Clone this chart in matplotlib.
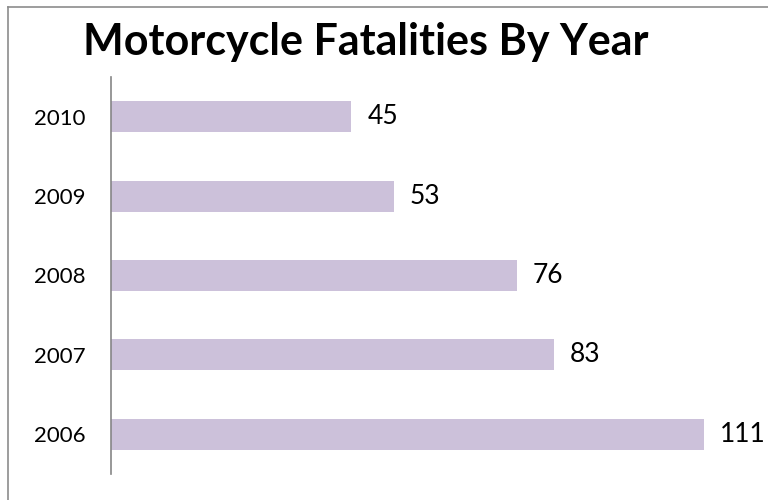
import matplotlib.pyplot as plt
from matplotlib.lines import Line2D

years = ["2006", "2007", "2008", "2009", "2010"]
fatalities = [111, 83, 76, 53, 45]

bar_color = "#CCC1DA"

plt.rcParams["font.family"] = ["Lato", "DejaVu Sans"]

fig = plt.figure(figsize=(7.68, 5.00), dpi=100)
W, H = 768, 500

# axes: x=0 at 111px, 5.34 px per unit; y from 77px (top) to 474px (bottom)
left, right = 111, 111 + 120 * 5.34
top, bottom = 77, 474
ax = fig.add_axes([left / W, 1 - bottom / H, (right - left) / W, (bottom - top) / H])

positions = list(range(len(years)))
ax.barh(positions, fatalities, height=0.39, color=bar_color)
ax.set_xlim(0, 120)
ax.set_ylim(-0.5, 4.5)

for pos, val in zip(positions, fatalities):
    ax.text(val + 3.0, pos, str(val), va="center", ha="left", fontsize=19,
            color="black", clip_on=False)

ax.set_yticks(positions)
ax.set_yticklabels(years, fontsize=16)
ax.tick_params(axis="y", length=0, pad=18.5)
ax.set_xticks([])

for side in ["top", "right", "bottom"]:
    ax.spines[side].set_visible(False)
ax.spines["left"].set_color("#868686")
ax.spines["left"].set_linewidth(1.2)

fig.text(366 / W, 1 - 42 / H, "Motorcycle Fatalities By Year", ha="center", va="center",
         fontsize=31, fontweight="bold")

# outer frame: only left and top edges are visible (image is cropped)
frame_kw = dict(transform=fig.transFigure, color="#8c8c8c", linewidth=1.2)
fig.lines.append(Line2D([8 / W, 8 / W], [0, 1 - 7 / H], **frame_kw))
fig.lines.append(Line2D([8 / W, 1], [1 - 7 / H, 1 - 7 / H], **frame_kw))

fig.savefig("out.png", dpi=100)
